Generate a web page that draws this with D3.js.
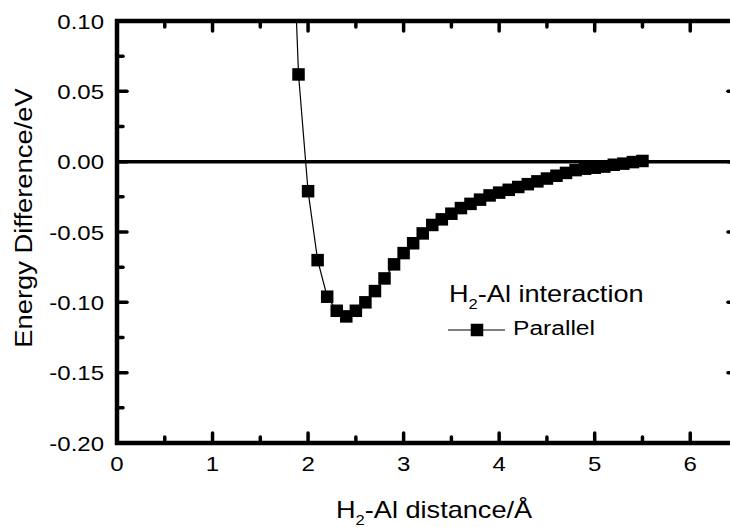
<!DOCTYPE html>
<html>
<head>
<meta charset="utf-8">
<script src="https://cdn.jsdelivr.net/npm/d3@7"></script>
<style>
  body { margin: 0; background: #fff; }
  svg { display: block; font-family: "Liberation Sans", Arial, sans-serif; }
</style>
</head>
<body>
<svg id="chart" width="730" height="527"></svg>
<script>
// H2-Al distance (Å) and energy difference (eV)
const distance = [1.8, 1.9, 2.0, 2.1, 2.2, 2.3, 2.4, 2.5, 2.6, 2.7, 2.8, 2.9, 3.0, 3.1, 3.2, 3.3, 3.4,
  3.5, 3.6, 3.7, 3.8, 3.9, 4.0, 4.1, 4.2, 4.3, 4.4, 4.5, 4.6, 4.7, 4.8, 4.9, 5.0, 5.1, 5.2, 5.3, 5.4, 5.5]
const energy = [0.24, 0.062, -0.021, -0.070, -0.096, -0.106, -0.110, -0.106, -0.100, -0.092, -0.083,
  -0.073, -0.065, -0.058, -0.051, -0.045, -0.041, -0.037, -0.033, -0.030, -0.027, -0.024, -0.022,
  -0.020, -0.018, -0.016, -0.014, -0.012, -0.010, -0.008, -0.006, -0.005, -0.0043, -0.0035,
  -0.0022, -0.0014, -0.0003, 0.0005]

const xTicks = [0, 1, 2, 3, 4, 5, 6]
const yTicks = [0.10, 0.05, 0.00, -0.05, -0.10, -0.15, -0.20]
const xMinor = [0.5, 1.5, 2.5, 3.5, 4.5, 5.5]
const yMinor = [0.075, 0.025, -0.025, -0.075, -0.125, -0.175]

const seriesName = 'Parallel'

const svg = d3.select('#chart')
const pLeft = 117, pRight = 738, pTop = 21, pBottom = 443
const sx = 1.2 // the original type is set wider than Arial

const x = d3.scaleLinear().domain([0, 6.5]).range([pLeft, pRight])
const y = d3.scaleLinear().domain([-0.2, 0.1]).range([pBottom, pTop])
const fmt = d3.formatLocale({ decimal: '.', thousands: ',', grouping: [3], currency: ['', ''], minus: '-' }).format('.2f')

const points = distance.map((d, i) => ({ x: d, y: energy[i] }))

svg.append('defs').append('clipPath').attr('id', 'plot')
  .append('rect')
  .attr('x', pLeft).attr('y', pTop)
  .attr('width', pRight - pLeft).attr('height', pBottom - pTop)

// zero line
svg.append('line')
  .attr('x1', pLeft).attr('x2', pRight)
  .attr('y1', y(0)).attr('y2', y(0))
  .attr('stroke', '#000').attr('stroke-width', 3.5)

// ticks: all drawn inward with round caps
const tickG = svg.append('g')
  .attr('stroke', '#000').attr('stroke-linecap', 'round')

const vTick = (val, len, w) => {
  tickG.append('line')
    .attr('x1', x(val)).attr('x2', x(val))
    .attr('y1', pBottom).attr('y2', pBottom - len).attr('stroke-width', w)
  tickG.append('line')
    .attr('x1', x(val)).attr('x2', x(val))
    .attr('y1', pTop).attr('y2', pTop + len).attr('stroke-width', w)
}
const hTick = (val, len, w) => {
  tickG.append('line')
    .attr('x1', pLeft).attr('x2', pLeft + len)
    .attr('y1', y(val)).attr('y2', y(val)).attr('stroke-width', w)
  tickG.append('line')
    .attr('x1', pRight).attr('x2', pRight - len)
    .attr('y1', y(val)).attr('y2', y(val)).attr('stroke-width', w)
}
xTicks.forEach(v => vTick(v, 10, 3.5))
xMinor.forEach(v => vTick(v, 6, 3.5))
yTicks.forEach(v => hTick(v, 10, 3.5))
yMinor.forEach(v => hTick(v, 6, 3.5))

// frame
svg.append('rect')
  .attr('x', pLeft).attr('y', pTop)
  .attr('width', pRight - pLeft).attr('height', pBottom - pTop)
  .attr('fill', 'none').attr('stroke', '#000').attr('stroke-width', 4.5)

// tick labels
svg.append('g').selectAll('text')
  .data(xTicks)
  .join('text')
  .attr('transform', d => `translate(${x(d)},${pBottom + 28}) scale(${sx},1)`)
  .attr('text-anchor', 'middle')
  .attr('font-size', 20)
  .text(d => d)

svg.append('g').selectAll('text')
  .data(yTicks)
  .join('text')
  .attr('transform', d => `translate(104,${y(d) + 7.5}) scale(${sx},1)`)
  .attr('text-anchor', 'end')
  .attr('font-size', 20)
  .text(d => fmt(d))

// data
const line = d3.line().x(d => x(d.x)).y(d => y(d.y))
const plot = svg.append('g').attr('clip-path', 'url(#plot)')
plot.append('path')
  .datum(points)
  .attr('d', line)
  .attr('fill', 'none')
  .attr('stroke', '#000')
  .attr('stroke-width', 1.2)

const ms = 12.5
plot.selectAll('rect.pt')
  .data(points)
  .join('rect')
  .attr('class', 'pt')
  .attr('x', d => x(d.x) - ms / 2)
  .attr('y', d => y(d.y) - ms / 2)
  .attr('width', ms).attr('height', ms)
  .attr('fill', '#000')

// axis titles
const xt = svg.append('text')
  .attr('transform', `translate(336,518) scale(${sx - 0.02},1)`)
  .attr('font-size', 23)
xt.append('tspan').text('H')
xt.append('tspan').attr('font-size', 14).attr('dy', 7).text('2')
xt.append('tspan').attr('dy', -7).text('-Al distance/Å')

svg.append('text')
  .attr('transform', `translate(32,218) rotate(-90) scale(1.14,1)`)
  .attr('text-anchor', 'middle')
  .attr('font-size', 24)
  .text('Energy Difference/eV')

// legend
const lg = svg.append('text')
  .attr('transform', `translate(449,302) scale(${sx - 0.02},1)`)
  .attr('font-size', 23)
lg.append('tspan').text('H')
lg.append('tspan').attr('font-size', 14).attr('dy', 7).text('2')
lg.append('tspan').attr('dy', -7).text('-Al interaction')

svg.append('line')
  .attr('x1', 448).attr('x2', 505)
  .attr('y1', 330).attr('y2', 330)
  .attr('stroke', '#000').attr('stroke-width', 1.2)
svg.append('rect')
  .attr('x', 477 - ms / 2).attr('y', 330 - ms / 2)
  .attr('width', ms).attr('height', ms)
  .attr('fill', '#000')
svg.append('text')
  .attr('transform', `translate(513,335) scale(1.23,1)`)
  .attr('font-size', 20)
  .text(seriesName)
</script>
</body>
</html>
